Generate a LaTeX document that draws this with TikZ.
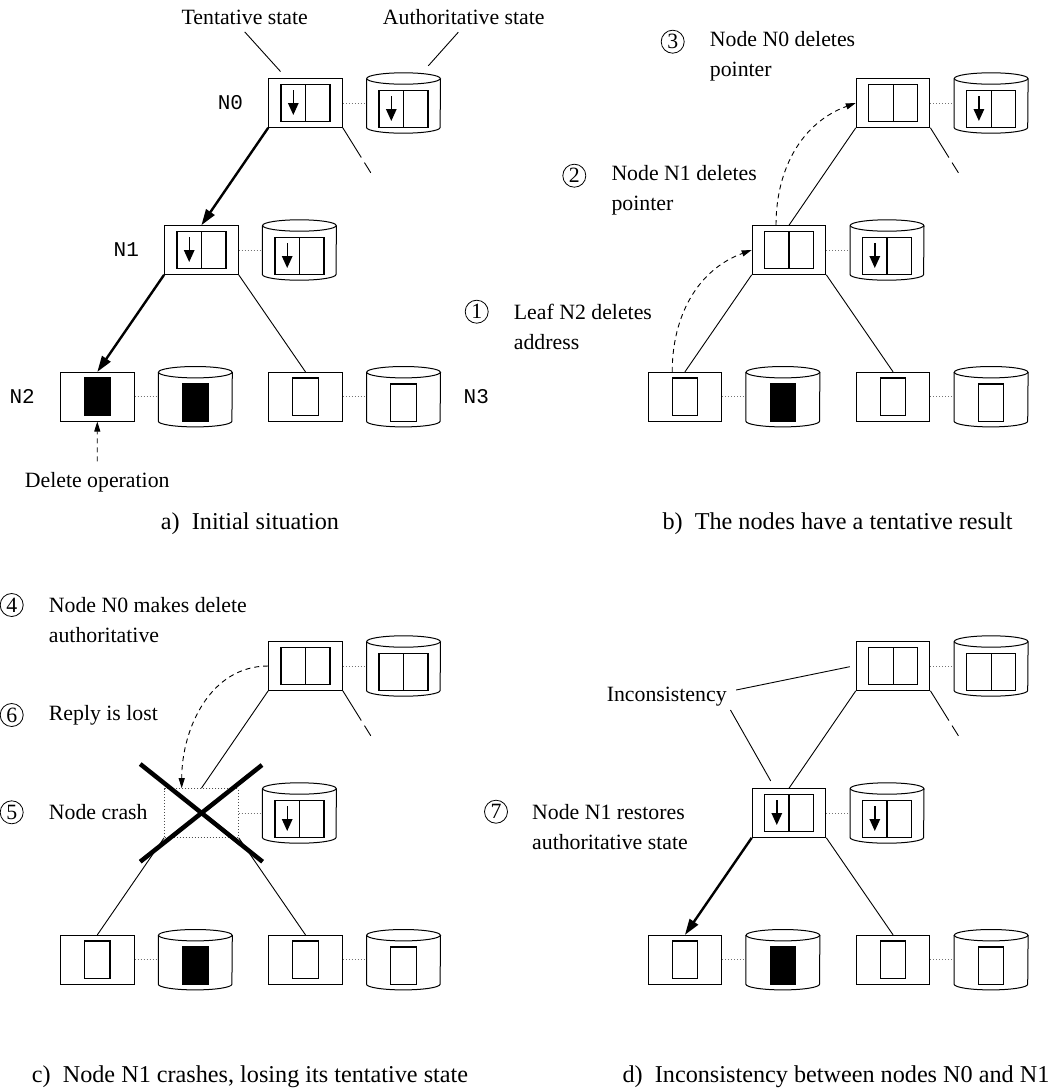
\documentclass[tikz,border=0pt]{standalone}
\usepackage{fontspec}
\setmainfont{Liberation Serif}
\setmonofont{Liberation Mono}
\usetikzlibrary{arrows.meta,calc,positioning}

\tikzset{
	every node/.style={font=\fontsize{21.8}{30}\selectfont},
	tent/.style={draw, line width=1pt, minimum width=73.6pt, minimum height=48.6pt, inner sep=0pt},
	store/.style={minimum width=73.6pt, minimum height=48.6pt, inner sep=0pt},
	crashed/.style={dotted, draw=black!70},
	cellline/.style={line width=1.2pt},
	link/.style={line width=0.9pt},
	heavy/.style={line width=2.4pt, -{Triangle[length=16pt,width=10pt]}},
	replica/.style={dotted, draw=black!55, line width=1pt},
	stub/.style={link, dash pattern=on 35pt off 6pt on 12pt off 40pt},
	msg/.style={line width=0.9pt, dash pattern=on 5pt off 4pt, -{Triangle[length=10pt,width=6pt]}},
	crash/.style={line width=4.5pt},
	num/.style={circle, draw, line width=0.8pt, minimum size=23pt, inner sep=0pt},
	note/.style={align=left, inner sep=0pt},
	tag/.style={font=\fontsize{21}{24}\ttfamily\selectfont, inner sep=0pt},
	caption/.style={font=\fontsize{24.2}{30}\selectfont}
}

% disk drawn round a store node
\def\drum(#1){\draw[line width=1pt] (#1.north west) -- (#1.south west) arc[start angle=180, end angle=360, x radius=36.8pt, y radius=5.7pt] -- (#1.north east);
	\draw[line width=1pt] (#1.north) ellipse[x radius=36.8pt, y radius=5.7pt];}
% two-slot record, #2 = drop inside a disk
\def\pair(#1)#2{\draw[cellline] ($(#1)+(-24.5,{-18.3+#2})$) rectangle ($(#1)+(24.5,{18.3+#2})$);
	\draw[cellline] ($(#1)+(0,{-18.3+#2})$) -- ($(#1)+(0,{18.3+#2})$);}
\def\full(#1)#2{\pair(#1){#2}
	\draw[line width=1.4pt, -{Triangle[length=12pt,width=10.5pt]}] ($(#1)+(-12.2,{-12.6+#2})$) -- ($(#1)+(-12.2,{12+#2})$);}
\def\leaf(#1)#2#3{\draw[cellline, fill=#3] ($(#1)+(-12.7,{-18.8+#2})$) rectangle ($(#1)+(12.7,{18.8+#2})$);}
% the four servers of one panel, #2 = extra style of the middle one
\def\tree#1#2{
	\node[tent] (#10) at (305.5,103) {};
	\node[store] (#1s0) at (403.5,103) {};
	\node[tent,#2] (#11) at (201.4,250) {};
	\node[store] (#1s1) at (299.4,250) {};
	\node[tent] (#12) at (97.3,396.7) {};
	\node[store] (#1s2) at (195.3,396.7) {};
	\node[tent] (#13) at (305.5,396.7) {};
	\node[store] (#1s3) at (403.5,396.7) {};
	\foreach \n in {0,...,3} {\drum(#1s\n) \draw[replica] (#1\n.east) -- (#1s\n.west);}
}

\begin{document}
\begin{tikzpicture}[x=1pt,y=-1pt]
	\useasboundingbox (0,0) rectangle (1053,1090);
	\fill[white] (0,0) rectangle (1053,1090);
	
	%%%%% a) %%%%%
	\tree{a}{}
	\full(a0){0} \full(as0){6}
	\full(a1){0} \full(as1){6}
	\leaf(a2){0}{black} \leaf(as2){6}{black}
	\leaf(a3){0}{white} \leaf(as3){6}{white}
	\draw[heavy] (a0.south west) -- (a1.north);
	\draw[heavy] (a1.south west) -- (a2.north);
	\draw[link] (a1.south east) -- (a3.north);
	\draw[stub] (a0.south east) -- +(28,45);
	
	\node[tag, left=25pt of a0] (n0) {N0};
	\node[tag, left=25pt of a1] (n1) {N1};
	\node[tag, left=25pt of a2] (n2) {N2};
	\node[tag, right=23pt of as3] (n3) {N3};
	
	\node (tl) at (244.7,17) {Tentative state};
	\node (al) at (463.8,17) {Authoritative state};
	\draw[link] ($(tl.south)+(0,4)$) -- ($(a0.north west)+(12.3,-6.7)$);
	\draw[link] ($(al.south)+(-5.5,4)$) -- ($(as0.north)+(24.8,-12.7)$);
	
	\node (del) at (97.2,482.7) {Delete operation};
	\draw[msg] ($(del.north)+(0,-8)$) -- (a2.south);
	
	%%%%% b) %%%%%
	\begin{scope}[shift={(587.6,0)}]
		\tree{b}{}
		\pair(b0){0} \full(bs0){6}
		\pair(b1){0} \full(bs1){6}
		\leaf(b2){0}{white} \leaf(bs2){6}{black}
		\leaf(b3){0}{white} \leaf(bs3){6}{white}
		\draw[link] (b0.south west) -- (b1.north);
		\draw[link] (b1.south west) -- (b2.north);
		\draw[link] (b1.south east) -- (b3.north);
		\draw[stub] (b0.south east) -- +(28,45);
		
		\draw[msg] ([xshift=-12.7pt]b2.north) to[out=90,in=200] (b1.west);
		\draw[msg] ([xshift=-13pt]b1.north) to[out=90,in=200] (b0.west);
		
		\node[num] (s1) at (-110.9,311.7) {1};
		\node[note, anchor=west] (t1) at ($(s1)+(37,15)$) {Leaf N2 deletes\\address};
		\node[num] (s2) at (-13.3,175.7) {2};
		\node[note, anchor=west] (t2) at ($(s2)+(37,15)$) {Node N1 deletes\\pointer};
		\node[num] (s3) at (85.1,41.7) {3};
		\node[note, anchor=west] (t3) at ($(s3)+(37,15)$) {Node N0 deletes\\pointer};
	\end{scope}
	
	%%%%% c) %%%%%
	\begin{scope}[shift={(0,563)}]
		\tree{c}{crashed}
		\pair(c0){0} \pair(cs0){6}
		\full(cs1){6}
		\leaf(c2){0}{white} \leaf(cs2){6}{black}
		\leaf(c3){0}{white} \leaf(cs3){6}{white}
		\draw[link] (c0.south west) -- (c1.north);
		\draw[link] (c1.south west) -- (c2.north);
		\draw[link] (c1.south east) -- (c3.north);
		\draw[stub] (c0.south east) -- +(28,45);
		
		\draw[msg] (c0.west) to[out=180,in=90] ([xshift=-19.7pt]c1.north);
		\draw[crash] ($(c1)+(-61.2,-49)$) -- ($(c1)+(61.2,48.7)$);
		\draw[crash] ($(c1)+(60.6,-48)$) -- ($(c1)+(-61.2,48.7)$);
		
		\node[num] (s4) at (11.7,42) {4};
		\node[note, anchor=west] (t4) at ($(s4)+(37,15)$) {Node N0 makes delete\\authoritative};
		\node[num] (s6) at (11.7,152) {6};
		\node[note, anchor=west] (t6) at ($(s6)+(37,0)$) {Reply is lost};
		\node[num] (s5) at (11.7,249.3) {5};
		\node[note, anchor=west] (t5) at ($(s5)+(37,0)$) {Node crash};
	\end{scope}
	
	%%%%% d) %%%%%
	\begin{scope}[shift={(587.6,563)}]
		\tree{d}{}
		\pair(d0){0} \pair(ds0){6}
		\full(d1){0} \full(ds1){6}
		\leaf(d2){0}{white} \leaf(ds2){6}{black}
		\leaf(d3){0}{white} \leaf(ds3){6}{white}
		\draw[link] (d0.south west) -- (d1.north);
		\draw[heavy] (d1.south west) -- (d2.north);
		\draw[link] (d1.south east) -- (d3.north);
		\draw[stub] (d0.south east) -- +(28,45);
		
		\node (inc) at (79.1,133.7) {Inconsistency};
		\draw[link] ($(inc.east)+(6,-6.7)$) -- ($(d0.west)+(-6,0.7)$);
		\draw[link] ($(inc.east)+(0.3,13.3)$) -- ($(d1.north)+(-18.3,-7.3)$);
		
		\node[num] (s7) at (-91.6,248.7) {7};
		\node[note, anchor=west] (t7) at ($(s7)+(36,15.8)$) {Node N1 restores\\authoritative state};
	\end{scope}
	
	\node[caption] (capa) at (250,523.3) {a)\ \ Initial situation};
	\node[caption] (capb) at (837.6,523.3) {b)\ \ The nodes have a tentative result};
	\node[caption] (capc) at (250,1076.7) {c)\ \ Node N1 crashes, losing its tentative state};
	\node[caption] (capd) at (836,1076.7) {d)\ \ Inconsistency between nodes N0 and N1};
\end{tikzpicture}
\end{document}
